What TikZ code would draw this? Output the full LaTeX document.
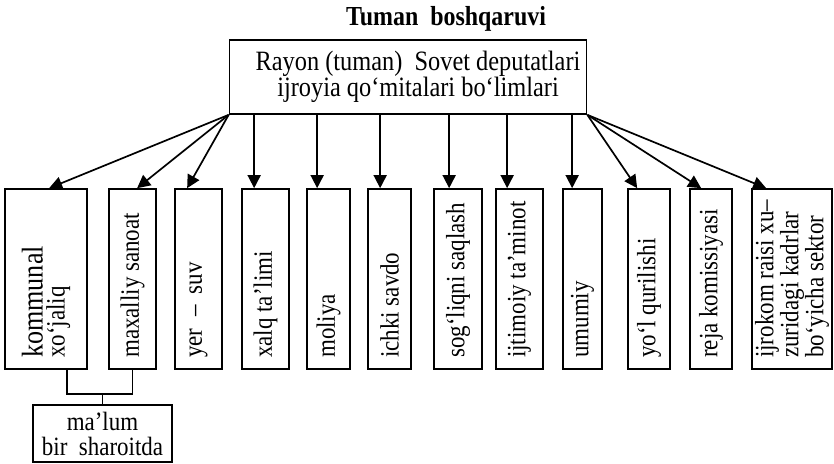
\documentclass[tikz,border=0pt]{standalone}
\usepackage{fontspec}
\setmainfont[FakeStretch=0.87]{Liberation Serif}
\usepackage{tikz}
\usetikzlibrary{positioning,arrows.meta,calc}

\begin{document}
\begin{tikzpicture}[x=1pt,y=-1pt,
        box/.style={draw, line width=1.7pt, inner sep=0pt, minimum height=180pt},
        vtxt/.style={rotate=90, anchor=west, inner sep=0pt, align=left,
                     font=\fontsize{26.4}{22}\selectfont},
        arr/.style={line width=1.7pt, -{Triangle[length=13pt,width=13pt]}},
        lnk/.style={line width=1.5pt}
      ]
  \useasboundingbox (0,0) rectangle (834,463);
  \def\ytop{189}
  \def\ybot{369}
  % title and head box
  \node[anchor=base, font=\fontsize{27.5}{24}\selectfont\bfseries]
        at (446,25) (title) {Tuman\ \ boshqaruvi};
  \node[draw, line width=1.7pt, minimum width=357pt, minimum height=74pt,
        align=center, inner sep=0pt, font=\fontsize{28}{23}\selectfont]
        at (408,77) (rayon)
        {\hspace*{20pt}Rayon (tuman)\ \ Sovet deputatlari\\
         \hspace*{20pt}ijroyia qo‘mitalari bo‘limlari};
  % department boxes: name/left/right/text
  \foreach \n/\l/\r/\t in {
      kom/5/87/{\fontsize{30}{22}\selectfont kommunal\\xo‘jaliq},
      max/109/156/{maxalliy sanoat},
      yer/175/222/{yer\ \ –\ \ suv},
      xal/242/289/{xalq ta’limi},
      mol/307/350/{moliya},
      ich/368/411/{ichki savdo},
      sog/434/482/{sog‘liqni saqlash},
      ijt/496/543/{ijtimoiy ta’minot},
      umu/563/602/{umumiy},
      yol/628/670/{yo‘l qurilishi},
      rej/690/732/{reja komissiyasi},
      ijr/752/832/{ijrokom raisi xu–\\zuridagi kadrlar\\bo‘yicha sektor}}{
    \node[box, minimum width={\r-\l}] at ({(\l+\r)/2},{(\ytop+\ybot)/2}) (\n) {};
    \node[vtxt] at ({(\l+\r)/2},\ybot-11) (\n-t) {\t};
  }
  % arrow entry points on the box tops
  \foreach \n/\o in {kom/45, max/29, yer/13, xal/13, mol/11, ich/13,
                     sog/16, ijt/12, umu/10, yol/10, rej/12, ijr/15}
    \coordinate (\n-in) at ($(\n.north west)+(\o,0)$);
  % straight arrows from the head box
  \foreach \n in {xal, mol, ich, sog, ijt, umu}
    \draw[arr] (rayon.south -| \n-in) -- (\n-in);
  % slanted arrows from the corners
  \foreach \n in {kom, max, yer}
    \draw[arr] (rayon.south west) -- (\n-in);
  \foreach \n in {yol, rej, ijr}
    \draw[arr] (rayon.south east) -- (\n-in);
  % lower box joined to the first two
  \node[draw, line width=1.7pt, minimum width=139pt, minimum height=57pt,
        align=center, inner sep=0pt, font=\fontsize{26.4}{25}\selectfont]
        at (102.5,433.5) (malum) {ma’lum\\bir\ \ sharoitda};
  \coordinate (kom-out) at ($(kom.south west)+(63,0)$);
  \draw[lnk] (kom-out) -- ++(0,24) coordinate (join) -| (max.south);
  \draw[lnk] (malum.north) -- (malum.north |- join);
\end{tikzpicture}
\end{document}
